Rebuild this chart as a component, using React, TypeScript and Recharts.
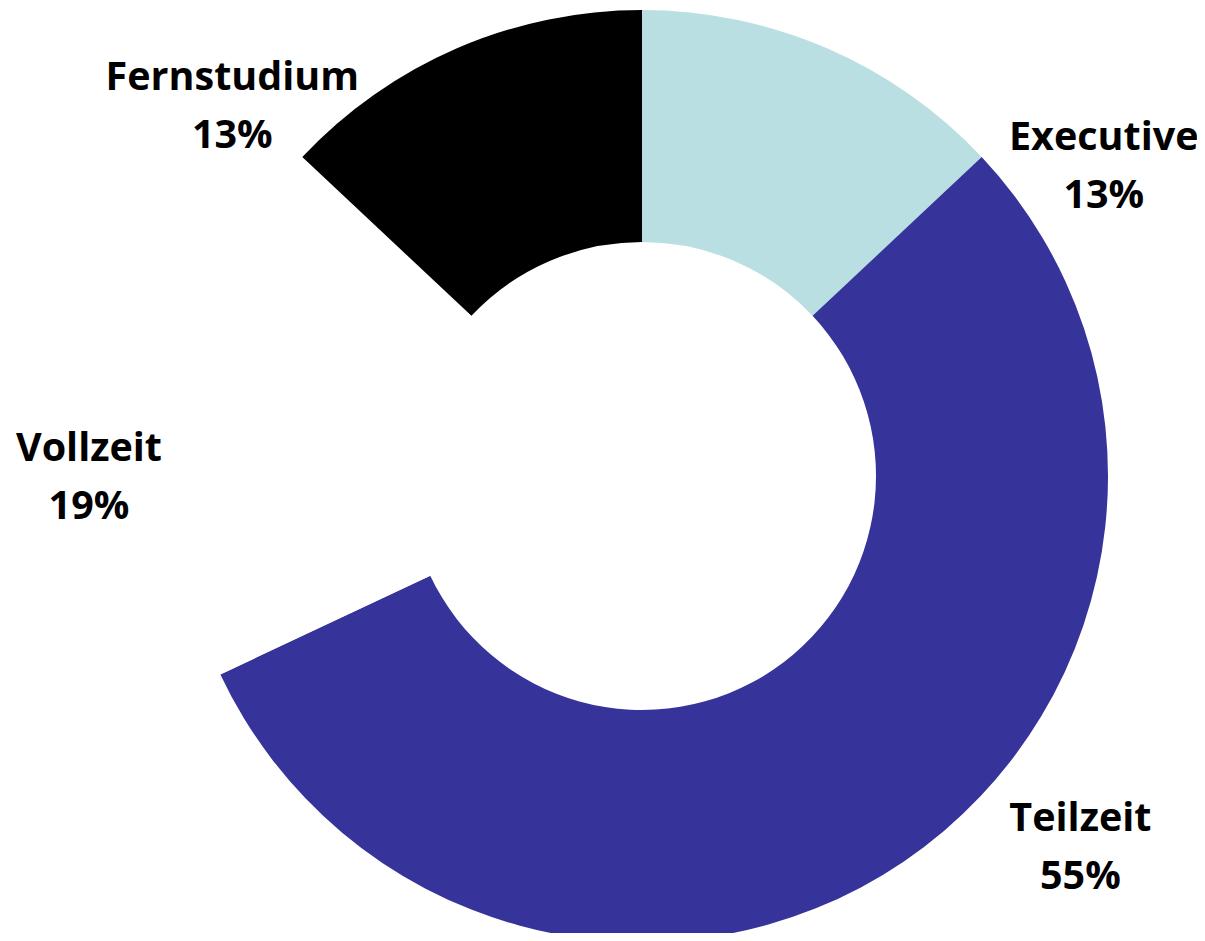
import React from "react";
import { PieChart, Pie, Cell } from "recharts";

const CATEGORIES = ["Executive", "Teilzeit", "Vollzeit", "Fernstudium"];
const SHARES = [13, 55, 19, 13];
const COLORS = ["#B9DFE3", "#36349A", "#FFFFFF", "#000000"];

// where Excel put each label: angle (deg) and distance from centre
const LABEL_POS: Record<string, { angle: number; r: number }> = {
  Executive: { angle: 34, r: 557 },
  Teilzeit: { angle: -40.2, r: 574 },
  Vollzeit: { angle: 180, r: 553 },
  Fernstudium: { angle: 137.8, r: 553 },
};

const data = CATEGORIES.map((name, i) => ({ name, value: SHARES[i] }));

const RAD = Math.PI / 180;

const renderLabel = (props: any) => {
  const { cx, cy, name, value } = props;
  const pos = LABEL_POS[name];
  const x = cx + pos.r * Math.cos(pos.angle * RAD);
  const y = cy - pos.r * Math.sin(pos.angle * RAD);
  return (
    <text
      x={x}
      y={y}
      textAnchor="middle"
      fill="#000"
      fontFamily="'Open Sans', sans-serif"
      fontWeight={700}
      fontSize={39.5}
    >
      <tspan x={x} y={y - 15}>
        {name}
      </tspan>
      <tspan x={x} y={y + 43}>
        {value}%
      </tspan>
    </text>
  );
};

export default function App() {
  return (
    <div style={{ margin: -8 }}>
      <PieChart
        width={1205}
        height={941}
        margin={{ top: 0, right: 0, bottom: 0, left: 0 }}
      >
        <Pie
          data={data}
          dataKey="value"
          nameKey="name"
          cx={642}
          cy={476}
          innerRadius={234}
          outerRadius={466}
          startAngle={90}
          endAngle={-270}
          stroke="none"
          label={renderLabel}
          labelLine={false}
          isAnimationActive={false}
        >
          {data.map((entry, index) => (
            <Cell key={`cell-${index}`} fill={COLORS[index % COLORS.length]} />
          ))}
        </Pie>
      </PieChart>
    </div>
  );
}
